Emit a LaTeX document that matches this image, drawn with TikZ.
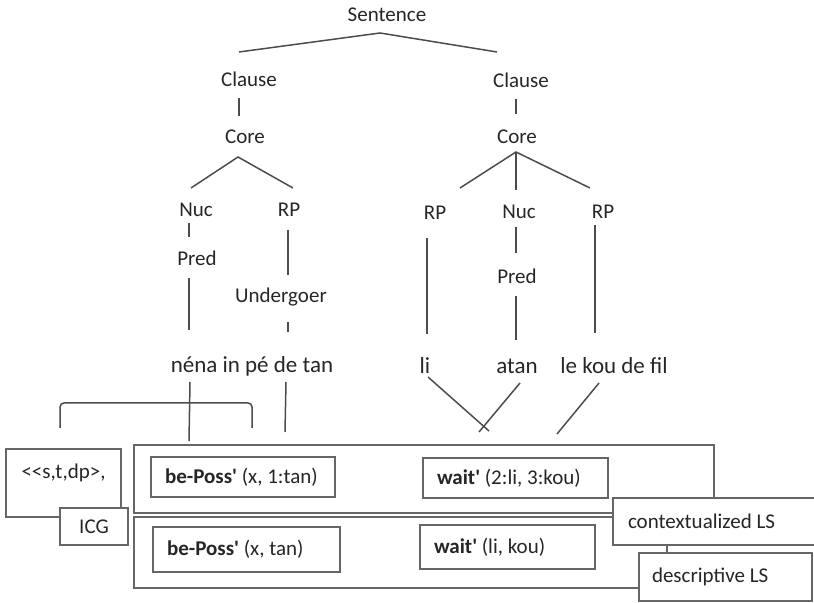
\documentclass[tikz,border=0pt]{standalone}
\usepackage{fontspec}
\setmainfont{Carlito}[Ligatures=TeXOff]
\usetikzlibrary{calc}

\begin{document}
\begin{tikzpicture}[x=0.5pt,y=-0.5pt,
  lbl/.style={font=\fontsize{10.5}{12}\selectfont,text=black!85},
  wrd/.style={font=\fontsize{11.5}{13}\selectfont,text=black!85},
  branch/.style={draw=black!70,line width=0.75pt},
  frame/.style={draw=black!60,line width=1pt,inner sep=0pt},
  lsbox/.style={frame,fill=white,align=flush left,inner xsep=7pt,font=\fontsize{10.5}{12}\selectfont,text=black!85}]
\clip (0,0) rectangle (814,603);
% tree labels
\node[lbl] (sent) at (387,15) {Sentence};
\node[lbl] (clauseL) at (249,79) {Clause};
\node[lbl] (clauseR) at (521,80) {Clause};
\node[lbl] (coreL) at (245,137) {Core};
\node[lbl] (coreR) at (517,137) {Core};
\node[lbl] (nucL) at (196,210) {Nuc};
\node[lbl] (rpL) at (289,210) {RP};
\node[lbl] (rpA) at (435,213) {RP};
\node[lbl] (nucR) at (519,212) {Nuc};
\node[lbl] (rpB) at (603,212) {RP};
\node[lbl] (predL) at (197,258) {Pred};
\node[lbl] (under) at (281,297) {Undergoer};
\node[lbl] (predR) at (517,276) {Pred};
\node[wrd] (wordsL) at (252,366) {néna in pé de tan};
\node[wrd] (li) at (425,366) {li};
\node[wrd] (atan) at (517,366) {atan};
\node[wrd] (lekou) at (614,366) {le kou de fil};
% logical structure frames
\node[frame,minimum width=290pt,minimum height=34pt] (clsbox) at (424,479) {};
\node[frame,minimum width=266.5pt,minimum height=35.5pt] (dlsbox) at (400.5,552.5) {};
\node[lsbox,text width=78pt,minimum height=20pt] (bpA) at (243,477) {\textbf{be-Poss\textquotesingle} (x, 1:tan)};
\node[lsbox,text width=78.5pt,minimum height=20pt] (waitA) at (515.5,478) {\textbf{wait\textquotesingle} (2:li, 3:kou)};
\node[lsbox,text width=79.5pt,minimum height=22.5pt] (bpB) at (246.5,549.5) {\textbf{be-Poss\textquotesingle} (x, tan)};
\node[lsbox,text width=73.5pt,minimum height=22pt] (waitB) at (507.5,547) {\textbf{wait\textquotesingle} (li, kou)};
\node[lsbox,text width=93.5pt,inner xsep=7.5pt,minimum height=23.5pt] (ctxls) at (721.5,521.5) {contextualized LS};
\node[lsbox,text width=73.5pt,inner xsep=6.5pt,minimum height=24pt] (desls) at (725.5,577) {descriptive LS};
\node[frame,lbl,minimum width=57.5pt,text height=15pt,text depth=19pt] (ctx) at (63.5,483) {<<s,t,dp>,};
\node[frame,lbl,fill=white,minimum width=34pt,minimum height=18.5pt] (icg) at (94,526.5) {ICG};
% branches
\draw[branch] ($(sent)+(-7,18)$) -- ($(clauseL)+(-10,-27)$);
\draw[branch] ($(sent)+(-7,18)$) -- ($(clauseR)+(-24,-28)$);
\draw[branch] ($(clauseL)+(-10,19)$) -- ($(coreL)+(-6,-21)$);
\draw[branch] ($(clauseR)+(-5,19)$) -- ($(coreR)+(-1,-23)$);
\draw[branch] ($(nucL)+(-5,-22)$) -- ($(coreL)+(-7,20)$) -- ($(rpL)+(4,-22)$);
\draw[branch] ($(rpA)+(25,-25)$) -- ($(coreR)+(-1,15)$) -- ($(rpB)+(-13,-24)$);
\draw[branch] ($(coreR)+(-1,15)$) -- ($(nucR)+(-3,-22)$);
\draw[branch] ($(nucL)+(-7,13)$) -- ($(predL)+(-8,-21)$);
\draw[branch] ($(predL)+(-8,20)$) -- ($(wordsL)+(-63,-36)$);
\draw[branch] ($(rpL)+(-1,20)$) -- ($(under)+(7,-22)$);
\draw[branch] ($(under)+(7,25)$) -- ($(wordsL)+(36,-34)$);
\draw[branch] ($(rpA)+(-8,25)$) -- ($(li)+(2,-32)$);
\draw[branch] ($(nucR)+(-3,15)$) -- ($(predR)+(-1,-23)$);
\draw[branch] ($(predR)+(-1,20)$) -- ($(atan)+(-1,-26)$);
\draw[branch] ($(rpB)+(-8,13)$) -- ($(lekou)+(-19,-33)$);
% links down to the logical structure
\draw[branch] ($(wordsL)+(-62,16)$) -- ($(clsbox.north west)+(56,-3)$);
\draw[branch] ($(wordsL)+(34,16)$) -- ($(clsbox.north west)+(152,-12)$);
\draw[branch] ($(li)+(3,11)$) -- ($(clsbox.north west)+(356,-13)$);
\draw[branch] ($(atan)+(3,17)$) -- ($(clsbox.north west)+(346,-12)$);
\draw[branch] ($(lekou)+(-15,17)$) -- ($(clsbox.north west)+(424,-10)$);
\draw[branch,rounded corners=2pt] (60,428) |- (252,403) -- (252,428);
\end{tikzpicture}
\end{document}
